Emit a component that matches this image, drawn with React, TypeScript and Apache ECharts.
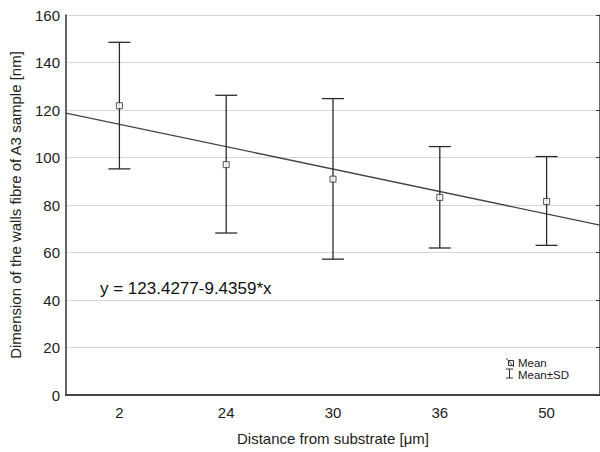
import React, { useEffect, useRef } from "react";
import * as echarts from "echarts";

// Distance categories (x axis) and measured fibre wall dimensions
const categories = ["2", "24", "30", "36", "50"];
const means = [121.8, 97.0, 90.9, 83.2, 81.5];
const sdLow = [95.2, 68.2, 57.2, 61.9, 63.0];
const sdHigh = [148.5, 126.2, 124.8, 104.6, 100.4];

// Linear fit: y = a + b * x, x being the category position (1..5)
const fitA = 123.4277;
const fitB = -9.4359;
const fitRange = [0.5, 5.5];
const equationLabel = "y = 123.4277-9.4359*x";

const yTicks = { min: 0, max: 160, interval: 20 };

const FONT = "'Liberation Sans', Arial, sans-serif";

export default function App() {
  const ref = useRef<HTMLDivElement>(null);

  useEffect(() => {
    if (!ref.current) return;
    const chart = echarts.init(ref.current, null, { renderer: "svg" });

    const fitData = fitRange.map((x) => [x, fitA + fitB * x]);
    const errData = categories.map((c, i) => [i, sdLow[i], sdHigh[i]]);

    const option: any = {
      animation: false,
      backgroundColor: "#ffffff",
      textStyle: { fontFamily: FONT },
      grid: { left: 64, right: 0, top: 15, bottom: 57 },
      xAxis: [
        {
          type: "category",
          data: categories,
          position: "bottom",
          axisLine: { lineStyle: { color: "#333", width: 1.5 } },
          axisTick: { inside: true, alignWithLabel: true, length: 4, lineStyle: { color: "#333" } },
          axisLabel: { color: "#222", fontSize: 15, fontFamily: FONT, margin: 10 },
          name: "Distance from substrate [μm]",
          nameLocation: "middle",
          nameGap: 36,
          nameTextStyle: { color: "#222", fontSize: 15, fontFamily: FONT },
          splitLine: { show: false },
        },
        {
          type: "category",
          data: categories,
          position: "top",
          axisLine: { lineStyle: { color: "#444", width: 2 } },
          axisTick: { inside: true, alignWithLabel: true, length: 4, lineStyle: { color: "#444" } },
          axisLabel: { show: false },
          splitLine: { show: false },
        },
        {
          type: "value",
          min: fitRange[0],
          max: fitRange[1],
          show: false,
        },
      ],
      yAxis: [
        {
          type: "value",
          min: yTicks.min,
          max: yTicks.max,
          interval: yTicks.interval,
          axisLine: { show: true, lineStyle: { color: "#333", width: 1.5 } },
          axisTick: { show: false },
          axisLabel: { color: "#222", fontSize: 15, fontFamily: FONT, margin: 6 },
          splitLine: { show: true, lineStyle: { color: "#d6d6d6", width: 1 } },
          name: "Dimension of the walls fibre of A3 sample [nm]",
          nameLocation: "middle",
          nameRotate: 90,
          nameGap: 43,
          nameTextStyle: { color: "#222", fontSize: 15, fontFamily: FONT },
        },
        {
          type: "value",
          position: "right",
          min: yTicks.min,
          max: yTicks.max,
          interval: yTicks.interval,
          axisLine: { show: true, lineStyle: { color: "#333", width: 1.5 } },
          axisTick: { show: true, inside: true, length: 4, lineStyle: { color: "#333" } },
          axisLabel: { show: false },
          splitLine: { show: false },
        },
      ],
      series: [
        {
          type: "line",
          xAxisIndex: 2,
          yAxisIndex: 0,
          data: fitData,
          symbol: "none",
          lineStyle: { color: "#444", width: 1.3 },
          z: 3,
        },
        {
          type: "custom",
          xAxisIndex: 0,
          yAxisIndex: 0,
          data: errData,
          encode: { x: 0, y: [1, 2] },
          z: 4,
          renderItem: (params: any, api: any) => {
            const idx = api.value(0);
            const lo = api.coord([idx, api.value(1)]);
            const hi = api.coord([idx, api.value(2)]);
            const half = 11;
            const style = { stroke: "#2a2a2a", lineWidth: 1.3, fill: "none" };
            return {
              type: "group",
              children: [
                { type: "line", shape: { x1: lo[0], y1: lo[1], x2: hi[0], y2: hi[1] }, style },
                { type: "line", shape: { x1: hi[0] - half, y1: hi[1], x2: hi[0] + half, y2: hi[1] }, style },
                { type: "line", shape: { x1: lo[0] - half, y1: lo[1], x2: lo[0] + half, y2: lo[1] }, style },
              ],
            };
          },
        },
        {
          type: "scatter",
          xAxisIndex: 0,
          yAxisIndex: 0,
          data: means,
          symbol: "rect",
          symbolSize: 6,
          itemStyle: { color: "#ffffff", borderColor: "#2a2a2a", borderWidth: 1 },
          z: 5,
        },
      ],
      graphic: [
        {
          type: "text",
          left: 100,
          top: 280,
          style: { text: equationLabel, fill: "#111", font: `17px ${FONT}` },
        },
        // legend: mean marker
        { type: "line", shape: { x1: 506, y1: 358, x2: 514, y2: 367 }, style: { stroke: "#333", lineWidth: 1 } },
        { type: "rect", shape: { x: 508.5, y: 360.5, width: 5, height: 5 }, style: { fill: "none", stroke: "#333", lineWidth: 1 } },
        {
          type: "text",
          x: 518,
          y: 362.5,
          style: { text: "Mean", fill: "#222", font: `11.5px ${FONT}`, lineHeight: 11, verticalAlign: "middle" },
        },
        // legend: SD whisker
        { type: "line", shape: { x1: 509.5, y1: 369, x2: 509.5, y2: 378 }, style: { stroke: "#333", lineWidth: 1 } },
        { type: "line", shape: { x1: 506, y1: 369, x2: 513, y2: 369 }, style: { stroke: "#333", lineWidth: 1 } },
        { type: "line", shape: { x1: 506, y1: 378, x2: 513, y2: 378 }, style: { stroke: "#333", lineWidth: 1 } },
        {
          type: "text",
          x: 518,
          y: 374.5,
          style: { text: "Mean±SD", fill: "#222", font: `11.5px ${FONT}`, lineHeight: 11, verticalAlign: "middle" },
        },
      ],
    };

    chart.setOption(option);
    return () => chart.dispose();
  }, []);

  return (
    <div
      ref={ref}
      style={{ position: "fixed", left: 0, top: 0, width: 600, height: 452, background: "#fff" }}
    />
  );
}
